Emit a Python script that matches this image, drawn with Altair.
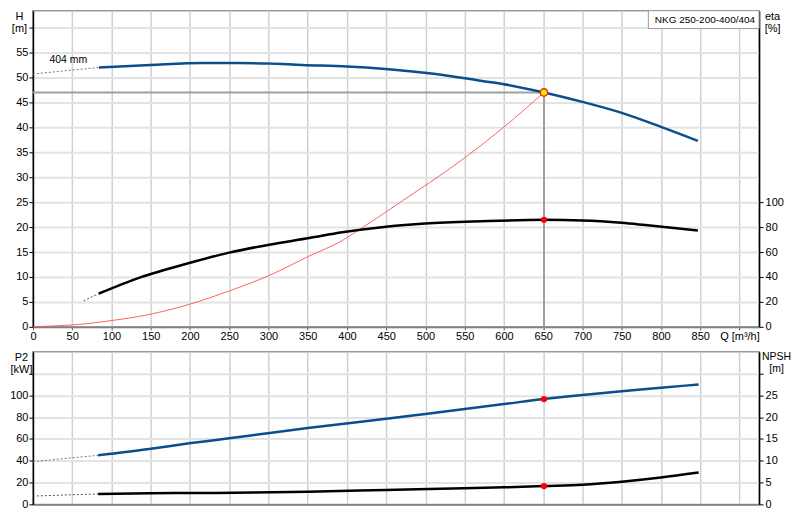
import altair as alt
import pandas as pd

FONT = "Liberation Sans"

# ---------------- data ----------------
# Head curve H [m] vs Q [m3/h]
q_h = [84, 150, 216, 260, 300, 343, 400, 449, 513, 572, 598, 651, 700, 750, 800, 847]
h_h = [52.0, 52.5, 52.9, 52.9, 52.8, 52.5, 52.2, 51.7, 50.7, 49.3, 48.7, 47.0, 45.1, 42.9, 40.1, 37.3]
q_h_ext = [0, 84]
h_h_ext = [50.7, 52.0]

# Efficiency eta [%]
q_eta = [84, 136, 199, 250, 301, 352, 394, 450, 500, 572, 651, 700, 750, 780, 847]
v_eta = [26.7, 39.5, 51.2, 59.5, 65.9, 71.2, 75.8, 80.3, 82.9, 84.7, 85.8, 85.3, 83.4, 81.6, 77.3]
q_eta_ext = [64.5, 84]
v_eta_ext = [20.8, 26.7]

# System curve (red)
q_sys = [0, 30, 67, 102, 136, 199, 250, 301, 352, 394, 411, 471, 551, 598, 651]
h_sys = [0, 0.2, 0.6, 1.3, 2.1, 4.5, 7.2, 10.3, 14.2, 17.3, 19.0, 25.3, 34.0, 39.8, 47.0]

# Power P2 [kW]
q_p2 = [83, 148, 199, 250, 280, 350, 450, 500, 550, 600, 651, 700, 750, 800, 848]
v_p2 = [45.0, 50.8, 56.0, 60.6, 63.4, 70.0, 78.5, 83.0, 87.5, 92.0, 96.6, 100.3, 103.8, 107.0, 110.0]
q_p2_ext = [0, 83]
v_p2_ext = [39.2, 45.0]

# NPSH [m]
q_np = [83, 150, 200, 280, 350, 450, 534, 600, 651, 700, 750, 800, 848]
v_np = [2.4, 2.55, 2.6, 2.7, 2.9, 3.3, 3.65, 3.9, 4.2, 4.5, 5.2, 6.15, 7.3]
q_np_ext = [0, 83]
v_np_ext = [1.9, 2.4]

# Duty point
duty_q = [651]
duty_h = [47.0]
duty_eta = [85.8]
duty_p2 = [96.6]
duty_np = [4.2]

curve_label = ["404 mm"]
curve_label_q = [21]
curve_label_h = [53.5]
pump_name = ["NKG 250-200-400/404"]

x_ticks = list(range(0, 901, 50))
h_ticks = list(range(0, 61, 5))
eta_ticks = list(range(0, 101, 20))
p2_ticks = list(range(0, 121, 20))
np_ticks = list(range(0, 31, 5))

# ---------------- styling ----------------
W = 728
H_TOP = 317
H_BOT = 153
BLUE = "#0c4d8c"
GRID_X = "#cdd1d4"
GRID_Y = "#e3e3e3"

x_scale = alt.Scale(domain=[0, 925], nice=False, zero=False)


def x_axis_top():
    return alt.Axis(values=x_ticks, title=None,
                    labelExpr="datum.value == 900 ? 'Q [m³/h]' : datum.label",
                    grid=True, gridColor=GRID_X, gridWidth=1.5,
                    domainColor="#808080", domainWidth=2,
                    tickColor="#555555", tickSize=3, labelPadding=1,
                    labelFontSize=11, labelColor="#000000",
                    labelFlush=False, labelOverlap=False)


def x_axis_bot():
    return alt.Axis(values=x_ticks, title=None, labels=False, ticks=False,
                    grid=True, gridColor=GRID_X, gridWidth=1.5,
                    domainColor="#808080", domainWidth=2)


def y_left_axis(ticks, top_val, title, tx):
    return alt.Axis(values=ticks, orient="left",
                    labelExpr=f"datum.value == {top_val} ? '' : datum.label",
                    title=title, titleAngle=0, titleAlign="center", titleBaseline="top",
                    titleX=tx, titleY=0, titleFontSize=11, titleFontWeight="normal",
                    titleLineHeight=12, titleColor="#000000",
                    grid=True, gridColor=GRID_Y, gridWidth=2,
                    domainColor="#000000", domainWidth=1.5,
                    tickColor="#000000", tickSize=4, labelPadding=1,
                    labelFontSize=11, labelColor="#000000")


def y_right_axis(ticks, top_val, title, tx, tfs=11):
    return alt.Axis(values=ticks, orient="right",
                    labelExpr=f"datum.value == {top_val} ? '' : datum.label",
                    title=title, titleAngle=0, titleAlign="center", titleBaseline="top",
                    titleX=tx, titleY=0, titleFontSize=tfs, titleFontWeight="normal",
                    titleLineHeight=12, titleColor="#000000",
                    grid=False, domainColor="#000000", domainWidth=1.5,
                    tickColor="#000000", tickSize=4, labelPadding=2,
                    labelFontSize=11, labelColor="#000000")


# ---------------- top panel ----------------
h_scale = alt.Scale(domain=[0, 63.4], nice=False, zero=False)
eta_scale = alt.Scale(domain=[0, 253.6], nice=False, zero=False)
h_axis = y_left_axis(h_ticks, 60, ["H", "[m]"], -14)
eta_axis = y_right_axis(eta_ticks, 1000, ["eta", "[%]"], 13)

XT = lambda f: alt.X(f, type="quantitative", scale=x_scale, axis=x_axis_top())
YH = lambda f: alt.Y(f, type="quantitative", scale=h_scale, axis=h_axis)
YE = lambda f: alt.Y(f, type="quantitative", scale=eta_scale, axis=eta_axis)

df_h = pd.DataFrame({"Q": q_h, "H": h_h})
df_h_ext = pd.DataFrame({"Q": q_h_ext, "H": h_h_ext})
df_sys = pd.DataFrame({"Q": q_sys, "H": h_sys})
df_eta = pd.DataFrame({"Q": q_eta, "eta": v_eta})
df_eta_ext = pd.DataFrame({"Q": q_eta_ext, "eta": v_eta_ext})
df_duty = pd.DataFrame({"Q": duty_q, "H": duty_h, "eta": duty_eta, "P2": duty_p2,
                        "NPSH": duty_np, "Q0": [0], "H0": [0]})
df_lbl = pd.DataFrame({"Q": curve_label_q, "H": curve_label_h, "t": curve_label})
df_name = pd.DataFrame({"t": pump_name})

hrule = alt.Chart(df_duty).mark_rule(color="#a0a0a0", strokeWidth=2).encode(
    x=XT("Q0"), x2="Q", y=YH("H"))
vrule = alt.Chart(df_duty).mark_rule(color="#a0a0a0", strokeWidth=2).encode(
    x=XT("Q"), y=YH("H0"), y2="H")
sys_line = alt.Chart(df_sys).mark_line(color="#ff5050", strokeWidth=1, opacity=0.9,
                                       interpolate="monotone").encode(
    x=XT("Q"), y=YH("H"))
h_ext = alt.Chart(df_h_ext).mark_line(color="#5a7aa8", strokeWidth=1, strokeDash=[2, 2]).encode(
    x=XT("Q"), y=YH("H"))
h_line = alt.Chart(df_h).mark_line(color=BLUE, strokeWidth=2.5, interpolate="monotone").encode(
    x=XT("Q"), y=YH("H"))
duty_pt = alt.Chart(df_duty).mark_point(shape="circle", filled=True, size=55, fill="#ffe600",
                                        stroke="#e0301e", strokeWidth=1.5, opacity=1).encode(
    x=XT("Q"), y=YH("H"))
lbl = alt.Chart(df_lbl).mark_text(align="left", baseline="middle", fontSize=10.5,
                                  font=FONT, color="#000000").encode(
    x=XT("Q"), y=YH("H"), text="t:N")
name_box = alt.Chart(df_name).mark_rect(fill="#ffffff", stroke="#9a9a9a", strokeWidth=1).encode(
    x=alt.value(W - 111), x2=alt.value(W), y=alt.value(0), y2=alt.value(18))
name_txt = alt.Chart(df_name).mark_text(align="right", baseline="middle", fontSize=10,
                                        font=FONT, color="#000000").encode(
    x=alt.value(W - 4), y=alt.value(9.5), text="t:N")

left_top = alt.layer(hrule, vrule, sys_line, h_ext, h_line, duty_pt, lbl, name_box, name_txt)

eta_ext = alt.Chart(df_eta_ext).mark_line(color="#555555", strokeWidth=1, strokeDash=[2, 2]).encode(
    x=XT("Q"), y=YE("eta"))
eta_line = alt.Chart(df_eta).mark_line(color="#000000", strokeWidth=2.5, interpolate="monotone").encode(
    x=XT("Q"), y=YE("eta"))
eta_pt = alt.Chart(df_duty).mark_circle(size=40, color="#ff0000", opacity=1).encode(
    x=XT("Q"), y=YE("eta"))
right_top = alt.layer(eta_ext, eta_line, eta_pt)

top = alt.layer(left_top, right_top).resolve_scale(y="independent").properties(
    width=W, height=H_TOP)

# ---------------- bottom panel ----------------
p2_scale = alt.Scale(domain=[0, 140], nice=False, zero=False)
np_scale = alt.Scale(domain=[0, 35], nice=False, zero=False)
p2_axis = y_left_axis(p2_ticks, 120, ["P2", "[kW]"], -12)
np_axis = y_right_axis(np_ticks, 30, ["NPSH", "[m]"], 17, tfs=10.5)

XB = lambda f: alt.X(f, type="quantitative", scale=x_scale, axis=x_axis_bot())
YP = lambda f: alt.Y(f, type="quantitative", scale=p2_scale, axis=p2_axis)
YN = lambda f: alt.Y(f, type="quantitative", scale=np_scale, axis=np_axis)

df_p2 = pd.DataFrame({"Q": q_p2, "P2": v_p2})
df_p2_ext = pd.DataFrame({"Q": q_p2_ext, "P2": v_p2_ext})
df_np = pd.DataFrame({"Q": q_np, "NPSH": v_np})
df_np_ext = pd.DataFrame({"Q": q_np_ext, "NPSH": v_np_ext})

p2_ext = alt.Chart(df_p2_ext).mark_line(color="#5a7aa8", strokeWidth=1, strokeDash=[2, 2]).encode(
    x=XB("Q"), y=YP("P2"))
p2_line = alt.Chart(df_p2).mark_line(color=BLUE, strokeWidth=2.5, interpolate="monotone").encode(
    x=XB("Q"), y=YP("P2"))
p2_pt = alt.Chart(df_duty).mark_circle(size=40, color="#ff0000", opacity=1).encode(
    x=XB("Q"), y=YP("P2"))
left_bot = alt.layer(p2_ext, p2_line, p2_pt)

np_ext = alt.Chart(df_np_ext).mark_line(color="#555555", strokeWidth=1, strokeDash=[2, 2]).encode(
    x=XB("Q"), y=YN("NPSH"))
np_line = alt.Chart(df_np).mark_line(color="#000000", strokeWidth=2.5, interpolate="monotone").encode(
    x=XB("Q"), y=YN("NPSH"))
np_pt = alt.Chart(df_duty).mark_circle(size=40, color="#ff0000", opacity=1).encode(
    x=XB("Q"), y=YN("NPSH"))
right_bot = alt.layer(np_ext, np_line, np_pt)

bottom = alt.layer(left_bot, right_bot).resolve_scale(y="independent").properties(
    width=W, height=H_BOT)

chart = alt.vconcat(top, bottom, spacing=25, bounds="flush").properties(
    padding=0, background="#ffffff"
).configure_view(
    stroke="#9a9a9a", strokeWidth=1.5
).configure_axis(
    labelFont=FONT, titleFont=FONT
).configure_text(font=FONT)

chart.save("out.html", embed_options={"renderer": "svg", "actions": False})
